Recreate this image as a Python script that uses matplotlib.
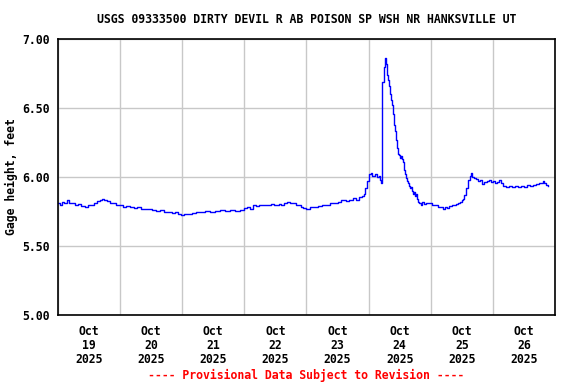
import datetime as dt
import matplotlib
matplotlib.use("Agg")
import matplotlib.pyplot as plt
import matplotlib.dates as mdates

# hours after 2025-10-19 00:00 and gage height (ft)
hours = [
    0.0, 0.8, 1.5, 2.3, 3.5, 4.3, 5.4, 6.6, 7.7, 8.9, 10.5, 11.6, 12.8, 13.9,
    15.1, 16.3, 17.0, 17.8, 19.0, 20.1, 21.3, 22.5, 24.0, 25.2, 26.3, 27.9,
    29.4, 30.6, 32.1, 33.7, 34.8, 36.4, 37.9, 39.5, 41.0, 42.6, 44.1, 45.3,
    46.5, 47.6, 48.8, 50.3, 51.9, 53.4, 55.0, 56.9, 58.8, 60.8, 62.7, 64.6,
    66.6, 68.5, 70.5, 72.0, 73.2, 74.3, 75.5, 76.6, 77.8, 79.0, 80.5, 82.1,
    83.6, 85.2, 86.3, 87.5, 88.6, 89.8, 91.0, 92.1, 93.7, 94.8, 96.0, 97.2,
    98.7, 100.3, 101.8, 103.4, 104.9, 106.5, 108.0, 109.5, 111.1, 112.6,
    113.8, 115.0, 116.1, 117.3, 118.1, 118.7, 119.2, 120.0, 120.8, 121.5,
    122.3, 123.1, 123.9, 124.3, 124.6, 125.0, 125.3, 125.8, 126.2, 126.6,
    127.0, 127.4, 127.7, 128.1, 128.5, 128.9, 129.3, 129.7, 130.1, 130.5,
    130.8, 131.2, 131.6, 132.0, 132.4, 132.8, 133.2, 133.5, 133.9, 134.3,
    134.7, 135.1, 135.5, 135.9, 136.3, 136.6, 137.0, 137.4, 137.8, 138.2,
    138.6, 139.0, 139.4, 140.1, 140.5, 141.3, 142.1, 143.2, 144.4, 145.5,
    146.7, 147.9, 148.6, 149.4, 150.2, 151.0, 152.1, 152.9, 153.7, 154.5,
    155.2, 156.0, 156.4, 156.8, 157.5, 158.3, 159.1, 159.5, 159.9, 160.6,
    161.4, 162.2, 163.0, 163.7, 164.5, 165.7, 166.5, 167.2, 168.0, 168.8,
    169.5, 170.3, 171.1, 171.9, 173.0, 174.2, 175.4, 176.5, 177.7, 178.8,
    180.0, 181.2, 182.3, 183.5, 184.6, 185.8, 186.6, 187.4, 187.7, 188.5,
    189.3,
]
gage_ft = [
    5.81, 5.80, 5.82, 5.815, 5.835, 5.81, 5.815, 5.80, 5.805, 5.79, 5.785,
    5.795, 5.80, 5.815, 5.825, 5.835, 5.84, 5.83, 5.825, 5.81, 5.815, 5.80,
    5.795, 5.785, 5.79, 5.78, 5.775, 5.785, 5.77, 5.765, 5.77, 5.76, 5.755,
    5.76, 5.75, 5.745, 5.74, 5.745, 5.73, 5.725, 5.735, 5.735, 5.74, 5.745,
    5.75, 5.755, 5.75, 5.755, 5.76, 5.755, 5.76, 5.755, 5.76, 5.775, 5.78,
    5.77, 5.795, 5.79, 5.80, 5.795, 5.80, 5.805, 5.80, 5.805, 5.795, 5.81,
    5.82, 5.815, 5.81, 5.795, 5.78, 5.775, 5.77, 5.78, 5.785, 5.79, 5.795,
    5.80, 5.81, 5.815, 5.82, 5.83, 5.825, 5.835, 5.845, 5.83, 5.855, 5.865,
    5.88, 5.92, 5.97, 6.02, 6.03, 6.01, 6.025, 6.00, 6.005, 5.98, 5.96,
    5.975, 6.69, 6.80, 6.86, 6.82, 6.74, 6.70, 6.66, 6.60, 6.56, 6.52, 6.46,
    6.38, 6.33, 6.27, 6.21, 6.17, 6.16, 6.14, 6.15, 6.13, 6.11, 6.05, 6.02,
    5.99, 5.97, 5.96, 5.935, 5.92, 5.93, 5.90, 5.88, 5.89, 5.86, 5.875,
    5.84, 5.82, 5.815, 5.80, 5.82, 5.805, 5.81, 5.815, 5.80, 5.795, 5.785,
    5.78, 5.77, 5.78, 5.775, 5.79, 5.795, 5.80, 5.805, 5.81, 5.82, 5.83,
    5.84, 5.87, 5.92, 5.98, 6.01, 6.03, 6.00, 5.99, 5.985, 5.97, 5.975,
    5.95, 5.965, 5.97, 5.975, 5.965, 5.97, 5.955, 5.965, 5.975, 5.955,
    5.935, 5.93, 5.935, 5.93, 5.935, 5.925, 5.935, 5.93, 5.94, 5.935, 5.945,
    5.95, 5.955, 5.96, 5.97, 5.96, 5.94, 5.935,
]

start = dt.datetime(2025, 10, 19)
end = dt.datetime(2025, 10, 27)
times = [start + dt.timedelta(hours=h) for h in hours]

title = "USGS 09333500 DIRTY DEVIL R AB POISON SP WSH NR HANKSVILLE UT"
ylabel = "Gage height, feet"
footer = "---- Provisional Data Subject to Revision ----"
yticks = [5.0, 5.5, 6.0, 6.5, 7.0]

font = {"family": "DejaVu Sans Mono", "weight": "bold", "size": 8.3}

fig = plt.figure(figsize=(5.76, 3.84), dpi=100)
ax = fig.add_axes([0.1007, 0.1797, 0.8628, 0.7187])

ax.plot(times, gage_ft, color="#0000ff", linewidth=1.0, drawstyle="steps-post")

ax.set_xlim(start, end)
ax.set_ylim(5.0, 7.0)
ax.set_yticks(yticks)
ax.set_yticklabels(["%.2f" % v for v in yticks], fontdict=font)

# gridlines at midnight, labels at noon
ax.xaxis.set_major_locator(mdates.DayLocator())
ax.xaxis.set_major_formatter(plt.NullFormatter())
ax.xaxis.set_minor_locator(mdates.HourLocator(byhour=[12]))
ax.xaxis.set_minor_formatter(mdates.DateFormatter("%b\n%d\n%Y"))
for lab in ax.xaxis.get_minorticklabels():
    lab.set_fontfamily("DejaVu Sans Mono")
    lab.set_fontweight("bold")
    lab.set_fontsize(8.3)
    lab.set_linespacing(1.1)

ax.tick_params(axis="both", which="both", length=0)
ax.tick_params(axis="x", which="minor", pad=7)
ax.tick_params(axis="y", pad=6)
ax.grid(True, which="major", color="#c8c8c8", linewidth=1.0)
ax.set_axisbelow(True)
for sp in ax.spines.values():
    sp.set_color("black")
    sp.set_linewidth(1.2)

ax.set_ylabel(ylabel, fontdict=font, labelpad=3)
fig.text(0.532, 0.948, title, ha="center", va="center", fontdict=font)
fig.text(0.532, 0.023, footer, ha="center", va="center", color="#ff0000",
         fontdict=font)

fig.savefig("out.png", dpi=100)
